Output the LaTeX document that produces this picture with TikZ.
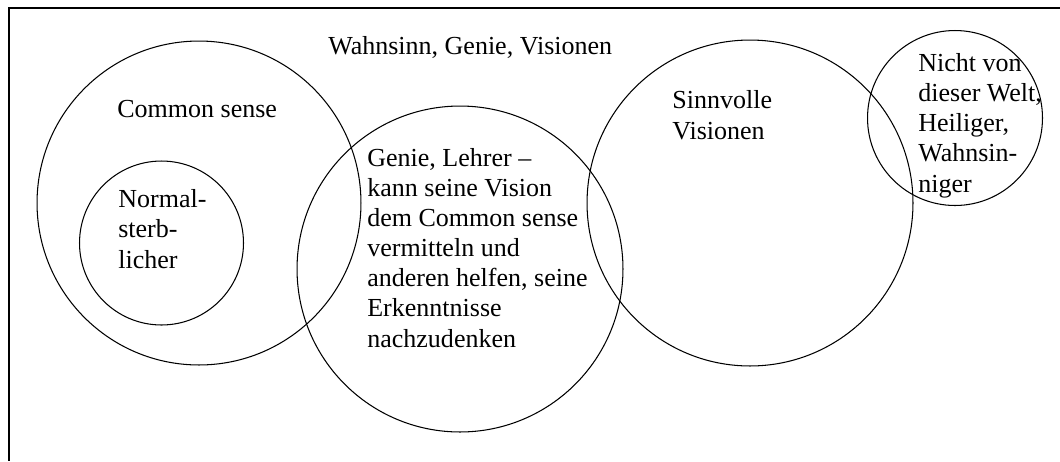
\documentclass[tikz,border=0pt]{standalone}
\usepackage{fontspec}
\setmainfont{Liberation Serif}
\usepackage{tikz}
\usetikzlibrary{positioning}

\begin{document}
\begin{tikzpicture}[x=0.02cm, y=-0.02cm, ring node/.style={circle,draw,line width=0.6pt,inner sep=0pt},label node/.style={anchor=base west,align=left,inner sep=0pt}]%1px = 0.02cm, base = last line
\useasboundingbox (0,0) rectangle (1060,461);
% frame, only top and left are seen
\coordinate (corner) at (9,8);
\coordinate (topend) at (1060,8);
\coordinate (leftend) at (9,461);
\draw[line width=0.85pt] (topend) -- (corner) -- (leftend);
\begin{scope}
\node[ring node,minimum size=6.48cm] (common) at (199,203) {};
\node[ring node,minimum size=3.28cm] (normal) at (161.5,243) {};
\node[ring node,minimum size=6.52cm] (genie) at (460,269) {};
\node[ring node,minimum size=6.52cm] (sinn) at (750,203) {};
\node[ring node,minimum size=3.5cm] (nicht) at (955,118) {};
\end{scope}
\begin{scope}[every node/.style={font=\fontsize{14.8}{17.1}\selectfont}]
\node[label node] (tWahn) at (328,54) {Wahnsinn, Genie, Visionen};
\node[label node] (tCommon) at (117,117) {Common sense};
\node[label node] (tNormal) at (118,268) {Normal-\\sterb-\\licher};
\node[label node] (tGenie) at (367,347) {Genie, Lehrer --\\kann seine Vision\\dem Common sense\\vermitteln und\\anderen helfen, seine\\Erkenntnisse\\nachzudenken};
\node[label node] (tSinn) at (672,139) {Sinnvolle\\Visionen};
\node[label node] (tNicht) at (918,192) {Nicht von\\dieser Welt,\\Heiliger,\\Wahnsin-\\niger};
\end{scope}
\end{tikzpicture}
\end{document}
